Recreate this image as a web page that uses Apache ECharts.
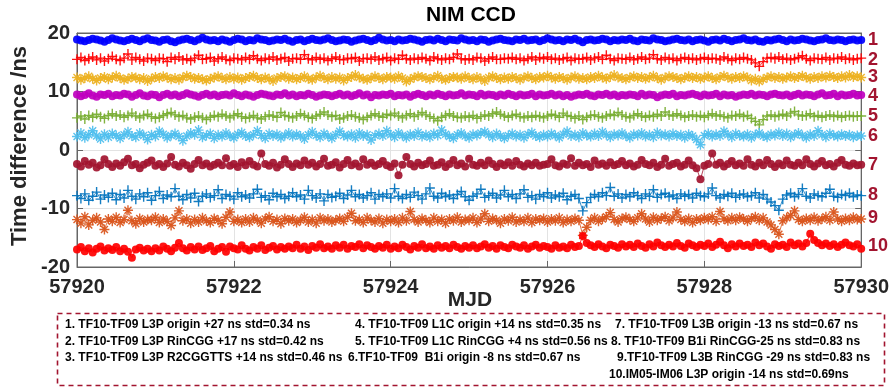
<!DOCTYPE html>
<html>
<head>
<meta charset="utf-8">
<script src="https://cdn.jsdelivr.net/npm/echarts@6/dist/echarts.min.js"></script>
<style>
html,body{margin:0;padding:0;background:#fff;}
#chart{width:892px;height:392px;}
</style>
</head>
<body>
<div id="chart"></div>
<script>
// ---------- DATA ----------
const mjdStart = 57920, mjdEnd = 57930;
const xTicks = [57920, 57922, 57924, 57926, 57928, 57930];
const yTicks = [-20, -10, 0, 10, 20];
const seriesIds = ['1','2','3','4','5','6','7','8','9','10'];

const s1 = [
18.9,18.7,18.6,18.8,19.0,18.9,18.7,18.5,18.8,19.1,18.9,18.7,18.6,18.8,19.0,18.8,18.6,18.9,19.1,18.8,
18.7,18.5,18.8,18.9,18.6,18.4,18.7,18.9,19.0,18.8,18.6,18.9,19.2,18.9,18.7,18.8,18.6,18.9,18.7,18.5,
18.8,19.0,18.9,18.6,18.8,18.7,19.1,18.9,18.8,18.6,18.7,18.9,18.8,19.0,18.7,18.5,18.8,18.9,18.6,18.8,
19.0,18.8,18.7,18.9,19.1,18.8,18.6,18.7,18.9,18.8,18.5,18.7,18.9,19.0,18.8,18.6,18.8,19.2,18.9,18.7,
18.8,18.6,18.9,18.7,18.8,19.0,18.9,18.7,18.5,18.8,18.9,18.7,19.0,18.8,18.6,18.9,18.8,18.7,19.1,18.9,
18.7,18.8,18.6,18.9,18.8,18.5,18.7,18.9,19.0,18.8,18.7,18.6,18.9,18.8,19.0,18.7,18.8,18.9,18.6,18.8,
19.1,18.9,18.7,18.8,18.6,18.9,18.8,19.0,18.7,18.4,18.8,18.9,18.7,18.8,19.0,18.9,18.6,18.8,18.7,18.9,
18.8,19.0,18.7,18.6,18.9,18.8,18.7,19.1,18.9,18.8,18.6,18.7,18.9,19.0,18.8,18.7,18.9,18.6,18.8,18.9,
18.7,18.5,18.8,18.9,18.7,19.0,18.8,18.6,18.8,18.9,19.1,18.8,18.7,18.9,18.6,18.5,18.8,18.7,18.9,19.0,
18.8,18.6,18.9,18.7,18.8,19.0,18.9,18.7,18.6,18.8,18.9,19.1,18.8,18.7,18.9,18.8,18.6,18.8,18.9,18.7,
18.8];
const s2 = [
15.5,15.8,15.3,15.6,15.9,15.4,15.7,15.2,15.6,16.0,15.5,15.3,15.7,16.4,15.4,15.8,15.5,15.2,15.7,15.6,
15.3,15.7,15.6,15.1,15.8,15.5,15.9,15.4,15.6,15.3,15.7,16.2,15.5,15.6,15.8,15.2,15.6,15.9,15.5,15.3,
15.7,15.6,15.4,15.8,15.5,16.1,15.6,15.3,15.7,15.5,15.9,15.4,15.6,15.8,15.2,15.6,15.7,15.5,16.3,15.6,
15.4,15.8,15.5,15.7,15.3,15.6,15.9,15.5,15.4,15.7,15.6,15.8,15.2,15.6,15.7,15.5,15.9,15.4,15.6,15.8,
15.3,15.7,15.5,16.2,15.6,15.4,15.7,15.5,15.8,15.6,15.3,15.9,15.6,15.4,15.7,15.5,15.8,16.4,15.6,15.4,
15.6,15.4,15.8,15.7,15.2,15.6,15.9,15.5,15.5,15.7,15.6,15.8,15.5,15.7,15.3,15.6,15.9,15.4,15.8,15.6,
15.9,15.5,15.7,15.4,15.6,15.8,15.3,15.7,15.5,15.6,15.8,15.4,15.7,15.9,15.5,16.2,15.6,15.3,15.7,15.6,
15.5,15.8,15.4,15.6,15.9,15.5,15.7,16.3,15.6,15.4,15.8,15.5,15.7,15.3,15.6,15.8,15.5,15.7,15.4,15.6,
15.8,15.5,15.7,15.6,15.4,15.9,15.6,15.3,15.7,15.5,15.8,15.6,15.4,14.9,14.3,15.1,15.7,15.8,15.6,15.9,
15.5,15.7,15.4,15.6,15.8,16.1,15.6,15.3,15.7,15.6,15.5,15.8,15.4,15.7,15.6,15.9,15.5,15.7,15.4,15.6,
15.7];
const s3 = [
12.4,12.0,12.3,12.6,12.2,11.9,12.3,12.5,12.1,12.4,12.7,12.3,12.0,12.2,12.5,12.4,12.1,12.3,11.8,12.2,
12.5,12.3,12.6,12.4,12.1,12.3,12.0,12.4,12.7,12.5,12.2,12.3,12.1,11.9,12.2,12.4,12.6,12.3,12.1,12.5,
12.2,12.4,12.0,12.3,12.5,12.7,12.3,12.1,12.4,12.2,11.8,12.3,12.5,12.6,12.2,12.4,12.1,12.3,12.6,12.2,
12.0,12.4,12.7,12.3,12.1,12.5,12.2,12.4,11.9,12.3,12.5,12.8,12.4,12.2,12.0,12.3,12.6,12.3,12.1,12.5,
12.4,12.2,12.6,12.3,11.7,12.1,12.4,12.6,12.5,12.3,12.1,12.4,12.7,12.2,12.0,12.3,12.5,12.4,12.2,12.6,
12.3,12.1,12.5,12.2,11.8,12.4,12.6,12.3,12.1,12.4,12.2,12.5,12.3,12.0,12.4,12.6,12.3,12.1,12.5,12.4,
12.7,12.4,12.2,12.5,12.3,12.0,12.4,12.6,12.2,12.3,12.1,12.5,12.3,12.7,12.4,12.2,12.5,12.8,12.4,12.3,
12.1,12.4,12.6,12.3,12.5,12.2,12.4,12.7,12.3,12.0,12.4,12.6,12.5,12.3,12.1,12.4,12.6,12.3,12.5,12.2,
12.4,12.6,12.3,12.1,12.5,12.7,12.4,12.2,12.5,12.3,12.6,12.4,11.9,12.2,11.7,12.1,12.4,12.6,12.3,12.5,
12.2,12.4,12.6,12.3,12.5,12.7,12.4,12.2,12.5,12.3,12.6,12.4,12.7,12.5,12.3,12.6,12.4,12.8,12.5,12.6,
12.4];
const s4 = [
9.5,9.2,9.4,9.7,9.3,9.1,9.5,9.4,9.6,9.2,9.4,9.3,9.6,9.5,9.1,9.4,9.7,9.3,9.2,9.5,
9.4,9.0,9.4,9.6,9.3,9.5,9.2,9.4,9.7,9.5,9.3,9.1,9.4,9.6,9.3,9.5,9.2,9.4,9.5,9.3,
9.7,9.4,9.2,9.5,9.3,9.1,9.4,9.6,9.5,9.3,9.2,9.5,9.4,9.7,9.3,9.5,9.2,9.4,9.3,9.6,
9.4,9.1,9.3,9.5,9.4,9.2,9.4,9.6,9.3,9.5,9.2,9.4,9.7,9.3,9.5,9.0,9.4,9.3,9.5,9.4,
9.6,9.2,9.4,9.3,9.5,9.1,9.4,9.6,9.4,9.2,9.5,9.3,9.6,9.4,9.2,9.5,9.3,9.4,9.7,9.3,
9.5,9.4,9.2,9.6,9.3,9.5,9.4,9.2,9.5,9.3,9.6,9.4,9.2,9.5,9.3,9.4,9.6,9.2,9.5,9.3,
9.4,9.6,9.3,9.5,9.2,9.4,9.1,9.3,9.5,9.4,9.6,9.3,9.2,9.5,9.4,9.6,9.3,9.5,9.2,9.4,
9.3,9.5,9.4,9.2,9.6,9.3,9.5,9.4,9.0,9.3,9.5,9.4,9.6,9.2,9.4,9.3,9.5,9.6,9.4,9.2,
9.5,9.3,9.4,9.6,9.2,9.5,9.3,9.4,9.1,9.3,9.5,9.4,9.6,9.3,9.5,9.4,9.2,9.5,9.6,9.4,
9.3,9.5,9.2,9.4,9.6,9.3,9.5,9.4,9.2,9.5,9.7,9.3,9.4,9.6,9.2,9.5,9.3,9.4,9.6,9.3,
9.4];
const s5 = [
5.5,5.8,5.3,5.9,5.6,6.1,5.7,5.4,5.9,6.2,5.8,6.0,5.6,5.9,6.3,5.8,5.5,5.9,6.1,5.7,
5.4,5.6,5.9,6.2,6.4,6.0,5.7,5.9,5.5,5.3,5.6,5.8,5.5,5.2,5.6,5.9,5.7,6.1,5.8,5.5,
5.9,6.2,5.7,5.4,5.6,5.9,5.5,5.3,5.7,6.0,5.8,5.6,6.4,5.9,5.7,5.5,5.8,6.2,5.9,5.6,
5.4,5.8,6.1,6.5,6.0,5.7,5.9,5.3,5.5,5.8,6.0,5.7,5.5,5.2,5.6,5.9,6.2,5.8,5.6,6.1,
5.9,6.3,5.8,5.5,5.9,6.2,5.7,6.0,6.4,6.0,5.7,5.4,5.0,5.6,5.9,6.2,5.8,5.6,5.5,5.8,
5.6,5.9,5.4,5.7,6.0,5.8,6.2,6.5,6.1,5.8,5.6,5.9,6.1,5.7,5.5,5.8,5.6,5.9,5.7,5.5,
5.8,6.1,5.9,5.6,6.3,5.9,5.7,5.4,5.8,5.2,5.6,5.9,6.0,5.7,5.5,5.8,6.1,5.9,6.4,6.0,
5.7,5.5,5.9,6.2,5.8,5.6,5.9,5.7,6.1,5.8,6.5,6.0,5.8,6.2,5.9,5.6,5.8,6.0,5.7,5.9,
5.6,5.9,6.2,5.8,6.0,5.7,5.5,5.9,5.8,6.1,5.7,5.9,5.4,4.9,4.3,5.2,5.8,6.0,5.7,5.9,
6.1,5.8,6.3,6.6,6.0,5.8,5.9,6.2,5.7,5.9,5.6,5.8,6.0,5.7,5.9,5.6,5.8,5.9,5.7,5.8,
5.8];
const s6 = [
2.3,2.9,2.1,2.6,3.3,2.4,1.9,2.7,2.2,2.8,2.5,2.0,2.6,3.1,2.4,2.2,2.9,2.5,1.8,2.6,
2.3,3.2,2.7,2.1,2.5,2.8,2.3,1.6,2.4,2.9,2.6,3.4,2.2,2.5,2.8,2.0,2.6,2.3,2.9,2.4,
2.1,2.7,3.0,2.4,2.2,2.6,3.3,2.5,2.0,2.8,2.4,2.7,2.1,2.5,2.9,2.3,2.7,2.4,1.9,2.6,
3.1,2.5,2.2,2.8,2.4,2.0,2.6,3.2,2.5,2.3,2.7,2.1,2.9,2.4,2.6,1.7,2.5,2.8,2.4,3.3,
2.6,2.2,2.9,2.5,2.1,2.7,2.4,3.0,2.3,2.6,2.2,2.8,2.5,3.4,2.7,2.3,2.0,2.6,2.9,2.4,
2.1,2.7,2.5,2.9,3.1,2.6,2.2,2.8,2.4,2.0,2.5,2.8,2.3,2.6,2.1,2.7,3.0,2.4,2.2,2.6,
2.3,2.8,2.5,2.1,2.7,3.2,2.4,2.6,2.2,2.9,2.5,2.3,2.8,2.4,3.1,2.6,2.2,2.7,2.5,2.9,
2.4,2.1,2.7,2.5,2.9,2.3,2.6,2.2,3.0,2.5,2.7,2.3,2.8,2.4,2.6,2.1,2.7,2.4,1.8,0.9,
2.5,2.8,2.3,2.7,2.4,3.2,2.6,2.2,2.8,2.5,2.3,2.7,2.1,2.6,2.9,2.4,2.2,2.7,2.5,3.0,
2.4,2.8,2.2,2.6,2.9,2.5,2.1,2.7,2.4,3.3,2.6,2.2,2.8,2.5,2.3,2.7,2.4,2.6,2.2,2.5,
2.4];
const s7 = [
-2.4,-2.8,-1.9,-2.5,-2.2,-3.0,-2.6,-1.6,-2.4,-2.9,-2.3,-2.7,-2.1,-1.5,-2.6,-2.4,-3.1,-2.5,-2.2,-1.8,
-2.7,-2.4,-2.9,-2.3,-1.2,-2.5,-2.8,-2.2,-2.6,-3.2,-2.4,-1.7,-2.6,-2.3,-2.8,-2.5,-2.2,-2.6,-1.4,-2.7,
-2.4,-2.9,-2.1,-2.6,-1.9,-2.5,-2.8,-0.6,-2.4,-2.7,-2.2,-3.0,-2.5,-1.6,-2.4,-2.9,-2.3,-2.6,-1.8,-2.5,
-2.2,-2.8,-2.4,-1.5,-2.7,-2.5,-2.1,-3.0,-2.4,-1.7,-2.6,-2.3,-2.8,-1.6,-2.5,-2.2,-2.7,-2.4,-1.9,-2.6,
-2.9,-2.3,-4.3,-2.5,-1.2,-2.4,-2.8,-2.2,-2.6,-2.4,-1.8,-2.7,-2.5,-2.1,-2.9,-2.4,-1.7,-2.6,-2.3,-2.8,
-1.5,-2.5,-2.7,-2.2,-2.6,-1.8,-2.4,-2.9,-2.3,-2.6,-2.1,-2.7,-1.9,-2.5,-2.8,-2.3,-2.6,-2.2,-2.7,-2.5,
-2.4,-1.6,-2.6,-2.8,-2.3,-2.5,-1.4,-2.7,-2.2,-2.6,-2.4,-2.9,-1.8,-2.5,-2.3,-2.7,-2.1,-2.6,-2.4,-1.9,
-2.6,-2.3,-2.8,-2.5,-1.7,-2.4,-2.6,-2.2,-2.9,-2.5,-1.5,-2.7,-2.4,-2.2,-2.8,-2.5,-1.8,-2.6,-3.1,-5.0,
-2.7,-2.4,-0.6,-2.5,-2.2,-2.8,-2.4,-1.9,-2.6,-2.3,-2.7,-1.6,-2.5,-2.8,-2.2,-2.6,-1.7,-2.4,-2.9,-2.3,
-2.6,-1.8,-2.5,-2.7,-2.2,-2.6,-1.6,-2.4,-2.8,-2.3,-1.9,-2.6,-2.4,-2.8,-2.2,-1.7,-2.5,-2.7,-2.3,-2.6,
-2.5];
const s8 = [
-7.8,-8.3,-7.5,-8.6,-7.9,-7.2,-8.4,-7.7,-8.1,-7.4,-8.5,-7.6,-8.2,-6.9,-7.9,-8.4,-7.5,-8.0,-7.3,-8.6,
-7.8,-7.1,-8.3,-7.7,-8.0,-6.6,-7.9,-8.5,-7.6,-8.2,-7.4,-8.8,-7.9,-7.5,-8.1,-7.8,-6.8,-8.3,-7.6,-7.9,
-8.4,-7.3,-8.0,-7.7,-8.2,-7.5,-6.7,-8.1,-7.8,-8.5,-7.4,-8.0,-7.6,-8.3,-7.9,-7.3,-8.0,-7.7,-8.4,-6.9,
-7.8,-8.2,-7.5,-8.7,-7.6,-8.1,-7.9,-7.4,-8.3,-7.7,-6.9,-8.0,-7.6,-8.2,-7.8,-7.3,-8.4,-7.6,-8.0,-7.5,
-8.2,-6.6,-7.9,-8.3,-7.6,-8.1,-7.2,-7.8,-8.4,-7.5,-6.5,-7.9,-8.2,-7.4,-8.0,-7.7,-8.3,-7.6,-7.1,-8.0,
-8.6,-7.9,-7.5,-6.7,-8.1,-7.8,-7.4,-8.2,-7.7,-6.9,-8.0,-7.6,-8.3,-7.5,-6.8,-8.1,-7.8,-8.4,-7.6,-8.0,
-7.3,-8.2,-7.7,-8.0,-7.4,-8.5,-7.9,-7.6,-8.3,-10.4,-9.0,-8.1,-7.6,-8.0,-7.3,-7.8,-6.4,-7.9,-7.5,-8.2,
-7.6,-8.0,-7.3,-7.8,-8.3,-7.5,-7.9,-6.8,-8.1,-7.6,-7.4,-8.0,-7.7,-8.3,-7.5,-7.9,-7.6,-8.2,-7.4,-7.8,
-8.0,-7.5,-6.5,-7.8,-8.2,-7.6,-7.9,-7.4,-8.1,-7.7,-7.5,-8.0,-7.8,-7.3,-8.2,-7.6,-8.4,-8.9,-9.5,-10.3,
-8.4,-7.7,-7.4,-8.0,-7.6,-6.6,-7.9,-8.2,-7.5,-7.8,-8.0,-7.4,-6.7,-7.9,-8.1,-7.6,-7.8,-7.4,-8.0,-7.7,
-7.8];
const s9 = [
-11.9,-12.5,-11.4,-12.8,-12.0,-11.6,-12.3,-13.6,-11.8,-12.2,-11.5,-12.4,-11.9,-10.3,-12.1,-12.6,-11.7,-12.3,-11.9,-12.0,
-11.5,-12.4,-11.8,-12.2,-12.9,-11.6,-10.4,-12.1,-11.8,-12.5,-11.9,-12.3,-11.6,-12.1,-12.4,-11.7,-12.0,-12.6,-11.5,-10.6,
-12.2,-11.9,-12.4,-11.8,-12.3,-11.6,-12.0,-12.5,-11.8,-11.4,-12.2,-11.9,-12.6,-11.7,-12.1,-11.8,-12.4,-12.0,-11.5,-12.3,
-11.9,-12.5,-11.6,-12.1,-11.8,-12.3,-12.0,-11.7,-12.2,-11.5,-10.8,-12.1,-11.9,-12.4,-11.6,-12.0,-12.3,-11.7,-12.5,-11.9,
-12.2,-11.8,-12.4,-11.6,-12.1,-10.5,-11.9,-12.3,-11.7,-12.0,-12.4,-11.6,-12.2,-11.9,-12.5,-11.8,-12.1,-11.5,-12.3,-11.9,
-12.0,-11.6,-12.4,-11.8,-10.9,-12.2,-11.7,-12.0,-12.5,-11.8,-12.1,-11.5,-12.3,-11.9,-12.2,-11.6,-12.4,-11.8,-12.0,-11.7,
-12.3,-11.8,-12.1,-11.6,-12.4,-11.9,-12.2,-11.7,-12.0,-14.6,-13.2,-12.0,-11.6,-12.2,-11.8,-11.4,-10.7,-11.9,-12.3,-11.7,
-11.5,-11.9,-12.2,-11.6,-10.9,-11.8,-12.3,-11.5,-12.0,-11.7,-11.4,-12.1,-11.6,-10.6,-11.9,-12.2,-11.7,-12.4,-11.8,-12.0,
-11.6,-11.9,-11.4,-12.2,-10.5,-11.8,-12.1,-11.6,-12.0,-11.5,-11.8,-12.2,-11.7,-11.4,-12.0,-11.6,-12.3,-12.8,-13.6,-14.4,
-12.1,-11.6,-11.2,-10.4,-11.9,-12.2,-11.7,-12.0,-11.5,-12.1,-11.8,-11.4,-12.0,-10.6,-11.8,-12.2,-11.7,-12.0,-11.5,-11.9,
-11.8];
const s10 = [
-17.0,-16.6,-17.3,-16.8,-17.5,-16.9,-16.5,-17.2,-16.8,-17.1,-16.6,-17.3,-16.9,-17.4,-18.4,-17.0,-16.7,-17.2,-16.9,-17.3,
-16.8,-17.2,-16.5,-16.9,-17.3,-16.7,-15.9,-16.8,-17.2,-16.6,-17.0,-16.5,-17.1,-16.8,-16.4,-17.3,-16.9,-16.6,-17.4,-16.5,
-16.8,-17.0,-16.3,-16.9,-17.2,-16.6,-16.9,-16.3,-17.1,-16.7,-16.4,-17.0,-16.6,-16.9,-16.5,-16.8,-16.2,-16.9,-16.5,-17.1,
-16.4,-16.7,-16.1,-16.8,-16.5,-16.9,-16.3,-16.7,-16.2,-16.9,-16.4,-16.6,-16.1,-16.8,-16.3,-16.6,-16.9,-16.4,-16.7,-16.2,
-16.9,-16.5,-16.8,-16.2,-16.6,-17.0,-16.4,-16.7,-16.1,-16.8,-16.5,-16.9,-16.3,-16.7,-16.4,-16.8,-16.2,-16.6,-16.9,-16.4,
-16.7,-16.3,-16.8,-16.5,-16.1,-16.7,-16.4,-16.9,-16.3,-16.6,-16.8,-16.2,-16.5,-16.7,-16.3,-16.9,-16.5,-16.2,-16.7,-16.4,
-16.6,-16.9,-16.3,-16.7,-16.5,-16.8,-16.2,-16.6,-16.4,-14.7,-15.9,-16.3,-16.6,-16.1,-16.5,-16.8,-16.2,-16.4,-16.7,-16.1,
-16.5,-16.2,-16.6,-16.0,-16.4,-16.7,-16.1,-16.5,-15.8,-16.3,-16.6,-16.2,-16.5,-15.9,-16.4,-16.7,-16.0,-16.3,-16.6,-16.2,
-16.4,-16.0,-16.6,-16.2,-15.7,-16.3,-16.8,-16.1,-16.5,-16.0,-16.4,-16.2,-16.6,-15.8,-16.3,-16.0,-16.5,-16.9,-16.1,-16.4,
-16.2,-16.6,-15.8,-16.3,-16.0,-16.5,-15.9,-14.3,-15.4,-15.9,-16.3,-16.0,-16.4,-16.1,-16.6,-16.2,-15.8,-16.3,-16.5,-16.1,
-16.9];

const legendLines = [
  '1. TF10-TF09 L3P origin +27 ns std=0.34 ns',
  '2. TF10-TF09 L3P RinCGG +17 ns std=0.42 ns',
  '3. TF10-TF09 L3P R2CGGTTS +14 ns std=0.46 ns',
  '4. TF10-TF09 L1C origin +14 ns std=0.35 ns',
  '5. TF10-TF09 L1C RinCGG +4 ns std=0.56 ns',
  '6.TF10-TF09  B1i origin -8 ns std=0.67 ns',
  '7. TF10-TF09 L3B origin -13 ns std=0.67 ns',
  '8. TF10-TF09 B1i RinCGG-25 ns std=0.83 ns',
  '9.TF10-TF09 L3B RinCGG -29 ns std=0.83 ns',
  '10.IM05-IM06 L3P origin -14 ns std=0.69ns'
];

// ---------- STYLE / LAYOUT ----------
const allData = [s1,s2,s3,s4,s5,s6,s7,s8,s9,s10];
const colors = ['#0000FF','#FF0000','#EDB120','#BF00BF','#77AC30','#4DBEEE','#A2142F','#0072BD','#D95319','#FF0000'];
const PLUS = 'path://M4.3,0L5.7,0L5.7,4.3L10,4.3L10,5.7L5.7,5.7L5.7,10L4.3,10L4.3,5.7L0,5.7L0,4.3L4.3,4.3Z';
const STAR = 'path://M4.3,0L5.7,0L5.7,10L4.3,10Z M0,4.3L10,4.3L10,5.7L0,5.7Z M1.0,2.0L2.0,1.0L9.0,8.0L8.0,9.0Z M8.0,1.0L9.0,2.0L2.0,9.0L1.0,8.0Z';
const symbols = ['circle',PLUS,STAR,'circle',PLUS,STAR,'circle',PLUS,STAR,'circle'];
const symSizes = [8,10,10,8,10,10,8,10,10,8];
const labelY = [40,60,77,96,116,136,165,195,218,246];
const FONT = '"Liberation Sans", Arial, Helvetica, sans-serif';

function toPairs(arr){
  const n = arr.length;
  return arr.map((v,i)=>[mjdStart + i*(mjdEnd-mjdStart)/(n-1), v]);
}

const series = allData.map((d,k)=>({
  type:'line',
  data: toPairs(d),
  symbol: symbols[k],
  symbolSize: symSizes[k],
  showAllSymbol: true,
  silent: true,
  animation: false,
  lineStyle: {color: colors[k], width: 0.8},
  itemStyle: {color: colors[k], opacity: 0.92},
  z: 3
}));

const axisTxt = {color:'#262626', fontSize:20, fontWeight:'bold', fontFamily:FONT};
const gridLine = {show:true, lineStyle:{color:'#E3E3E3', width:1}};
const frameLine = {show:true, onZero:false, lineStyle:{color:'#666'}};
const tick = {show:true, inside:true, length:6, lineStyle:{color:'#666'}};

const graphics = [];
graphics.push({type:'text', x:471, y:15, style:{text:'NIM CCD', fontSize:21, fontWeight:'bold', fontFamily:FONT, fill:'#000', align:'center', verticalAlign:'middle'}});
graphics.push({type:'text', x:20, y:146, rotation:Math.PI/2, style:{text:'Time difference /ns', fontSize:22, fontWeight:'bold', fontFamily:FONT, fill:'#262626', align:'center', verticalAlign:'middle'}});
graphics.push({type:'text', x:470, y:300, style:{text:'MJD', fontSize:21, fontWeight:'bold', fontFamily:FONT, fill:'#262626', align:'center', verticalAlign:'middle'}});
seriesIds.forEach((t,k)=>{
  graphics.push({type:'text', x:868, y:labelY[k], style:{text:t, fontSize:18, fontWeight:'bold', fontFamily:FONT, fill:'#A2142F', align:'left', verticalAlign:'middle'}});
});
graphics.push({type:'rect', shape:{x:57.5, y:313.5, width:827, height:72}, style:{fill:'none', stroke:'#A2142F', lineWidth:1.6, lineDash:[5,4]}});
const legPos = [[65,325],[65,342],[65,358],[355,325],[355,342],[348,358],[615,325],[611,342],[617,358],[609,375]];
legendLines.forEach((t,k)=>{
  graphics.push({type:'text', x:legPos[k][0], y:legPos[k][1], style:{text:t, fontSize:12, fontWeight:'bold', fontFamily:FONT, fill:'#000', align:'left', verticalAlign:'middle'}});
});

const chart = echarts.init(document.getElementById('chart'), null, {renderer:'canvas'});
chart.setOption({
  backgroundColor:'#fff',
  animation:false,
  grid:{left:77, right:29, top:33, bottom:125, show:true, borderColor:'#666', borderWidth:1, containLabel:false},
  xAxis:[{
    type:'value', min:xTicks[0], max:xTicks[xTicks.length-1], interval:2,
    axisLine:frameLine, axisTick:tick,
    axisLabel:Object.assign({margin:10, formatter:v=>String(v)}, axisTxt),
    splitLine:gridLine
  },{
    type:'value', position:'top', min:xTicks[0], max:xTicks[xTicks.length-1], interval:2,
    axisLine:frameLine, axisTick:tick,
    axisLabel:{show:false}, splitLine:{show:false}
  }],
  yAxis:[{
    type:'value', min:yTicks[0], max:yTicks[yTicks.length-1], interval:10,
    axisLine:frameLine, axisTick:tick,
    axisLabel:Object.assign({margin:7}, axisTxt),
    splitLine:gridLine
  },{
    type:'value', position:'right', min:yTicks[0], max:yTicks[yTicks.length-1], interval:10,
    axisLine:frameLine, axisTick:tick,
    axisLabel:{show:false}, splitLine:{show:false}
  }],
  series: series,
  graphic: graphics
});
</script>
</body>
</html>
